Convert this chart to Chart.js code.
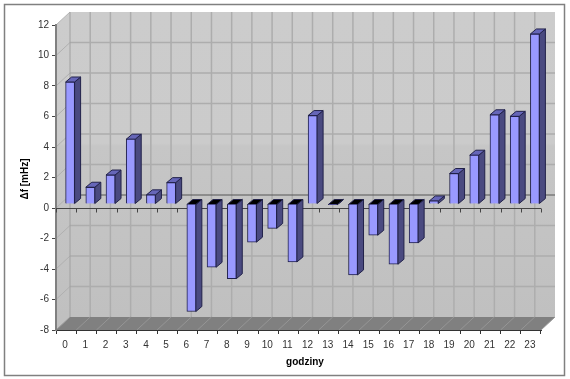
<!DOCTYPE html>
<html><head><meta charset="utf-8">
<style>html,body{margin:0;padding:0;background:#fff}canvas{display:block}</style>
<script src="https://cdn.jsdelivr.net/npm/chart.js@4"></script>
</head><body><canvas id="c" width="570" height="379"></canvas>
<script>
const hours = ['0','1','2','3','4','5','6','7','8','9','10','11','12','13','14','15','16','17','18','19','20','21','22','23'];
const deltaF = [8.0,1.1,1.9,4.25,0.6,1.4,-7.05,-4.15,-4.9,-2.5,-1.6,-3.8,5.8,-0.05,-4.65,-2.05,-3.95,-2.55,0.2,2.0,3.2,5.85,5.75,11.15];
const xTitle = 'godziny';
const yTitle = 'Δf [mHz]';
const WALL = {dx:14, dy:-13};      // depth of the 3D box
const SHIFT = {dx:4, dy:-4};       // bars sit inside the box
const DEPTH = {dx:6, dy:-5};       // depth of one bar
const GRID = '#adadad';

function line(ctx,x1,y1,x2,y2,col,w){ctx.strokeStyle=col;ctx.lineWidth=w;ctx.beginPath();ctx.moveTo(x1,y1);ctx.lineTo(x2,y2);ctx.stroke();}
function poly(ctx,pts,fill,stroke){ctx.beginPath();pts.forEach((p,i)=>i?ctx.lineTo(p[0],p[1]):ctx.moveTo(p[0],p[1]));ctx.closePath();ctx.fillStyle=fill;ctx.fill();if(stroke){ctx.strokeStyle=stroke;ctx.lineWidth=1;ctx.stroke();}}

const box3d = {
  id:'box3d',
  beforeDraw(chart){
    const {ctx,chartArea:a,scales:{x,y}} = chart;
    const L=a.left,R=a.right,T=a.top,B=a.bottom,dx=WALL.dx,dy=WALL.dy;
    ctx.save();
    // outer frame
    ctx.strokeStyle='#808080';ctx.lineWidth=1.5;ctx.strokeRect(4.5,4.5,560,371);
    // back wall
    const g=ctx.createLinearGradient(0,T+dy,0,B+dy);
    g.addColorStop(0,'#cccccc');g.addColorStop(0.43,'#cbcbcb');g.addColorStop(0.44,'#c6c6c6');g.addColorStop(1,'#c0c0c0');
    poly(ctx,[[L+dx,T+dy],[R+dx,T+dy],[R+dx,B+dy],[L+dx,B+dy]],g);
    // left wall
    poly(ctx,[[L,T],[L+dx,T+dy],[L+dx,B+dy],[L,B]],g);
    // floor
    poly(ctx,[[L,B],[L+dx,B+dy],[R+dx,B+dy],[R,B]],'#808080');
    // grid
    const step=(R-L)/hours.length;
    for(let i=0;i<=hours.length;i++){
      const px=L+i*step;
      if(i>0&&i<hours.length) line(ctx,px+dx,T+dy,px+dx,B+dy,GRID,1.5);
      line(ctx,px,B,px+dx,B+dy,'#969696',1);
    }
    y.ticks.forEach(t=>{
      const py=y.getPixelForValue(t.value);
      if(t.value===-8) return;
      if(t.value===12) {line(ctx,L,py,L+dx,py+dy,'#b5b5b5',1);return;}
      line(ctx,L+dx,py+dy,R+dx,py+dy,t.value===0?'#555555':GRID,t.value===0?1:1.5);
      line(ctx,L,py,L+dx,py+dy,'#b0b0b0',1);
    });
    line(ctx,L+dx,T+dy,L+dx,B+dy,'#a0a0a0',1);
    ctx.restore();
  },
  beforeDatasetsDraw(chart){
    const {ctx,chartArea:a,scales:{x,y}} = chart;
    ctx.save();
    const y0=Math.round(y.getPixelForValue(0))+0.5;
    line(ctx,a.left,y0,a.right,y0,'#444444',1);
    const step=(a.right-a.left)/hours.length;
    for(let i=0;i<=hours.length;i++){const px=Math.round(a.left+i*step)+0.5;line(ctx,px,y0,px,y0+4,'#444444',1);}
    // side and cap of every bar
    const ox=SHIFT.dx,oy=SHIFT.dy,dx=DEPTH.dx,dy=DEPTH.dy;
    chart.getDatasetMeta(0).data.forEach((el,i)=>{
      const l=el.x-el.width/2+ox,r=el.x+el.width/2+ox;
      const top=Math.min(el.y,el.base)+oy,bot=Math.max(el.y,el.base)+oy;
      poly(ctx,[[r,top],[r+dx,top+dy],[r+dx,bot+dy],[r,bot]],'#4a4a80','#22224a');
      poly(ctx,[[l,top],[l+dx,top+dy],[r+dx,top+dy],[r,top]],deltaF[i]<0?'#000000':'#6666b8','#22224a');
    });
    ctx.translate(ox,oy);
  },
  afterDatasetsDraw(chart){
    const {ctx,chartArea:a} = chart;
    ctx.restore();
    ctx.save();
    ctx.fillStyle='#000';ctx.font='bold 10px "Liberation Sans"';ctx.textAlign='center';ctx.textBaseline='middle';
    ctx.fillText(xTitle,305,362);
    ctx.translate(25.5,179);ctx.rotate(-Math.PI/2);ctx.fillText(yTitle,0,0);
    ctx.restore();
  }
};

new Chart(document.getElementById('c'),{
  type:'bar',
  data:{labels:hours,datasets:[{data:deltaF,backgroundColor:'#9999ff',borderColor:'#20204a',borderWidth:1,barThickness:9}]},
  plugins:[box3d],
  options:{
    responsive:false,animation:false,
    layout:{padding:{top:25,right:29,left:0,bottom:0}},
    plugins:{legend:{display:false},tooltip:{enabled:false}},
    scales:{
      x:{offset:true,
        afterFit(s){s.height=49;},
        grid:{offset:true,drawOnChartArea:false,color:'#333333',tickLength:4},
        border:{color:'#333333',width:1},
        ticks:{color:'#333333',font:{family:'"Liberation Sans"',size:10},padding:5,labelOffset:-1,maxRotation:0,autoSkip:false}},
      y:{min:-8,max:12,
        afterFit(s){s.width=56;},
        grid:{drawOnChartArea:false,color:'#444444',tickLength:4},
        border:{color:'#808080',width:2},
        ticks:{stepSize:2,color:'#333333',font:{family:'"Liberation Sans"',size:10},padding:3}}
    }
  }
});
</script></body></html>
